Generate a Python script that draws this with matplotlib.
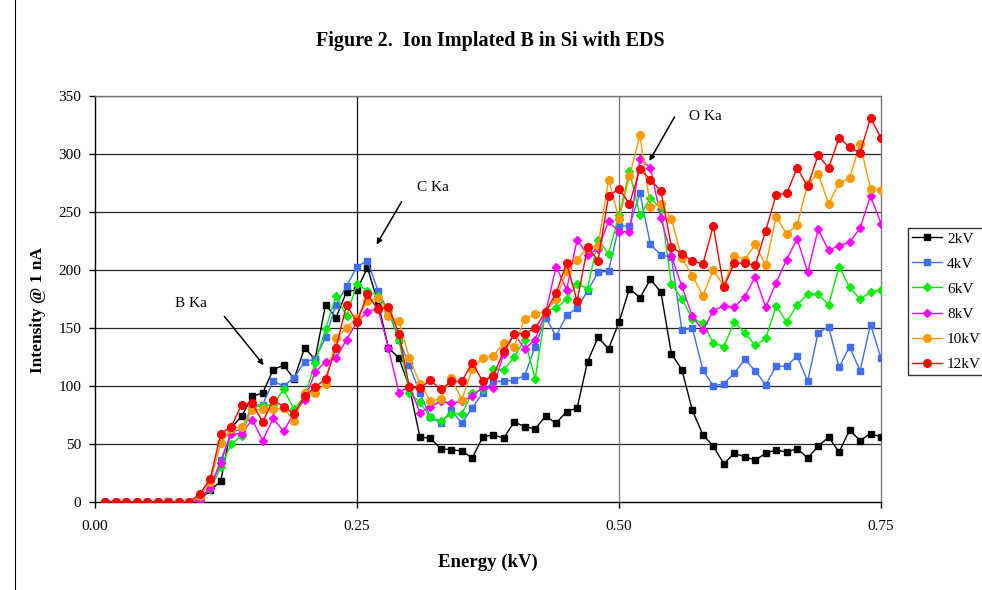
import matplotlib
matplotlib.use("Agg")
import matplotlib.pyplot as plt
from matplotlib.patches import Rectangle

plt.rcParams['font.family'] = ['Liberation Serif', 'DejaVu Serif']

energy = [0.01, 0.02, 0.03, 0.04, 0.05, 0.06, 0.07, 0.08, 0.09, 0.10,
          0.11, 0.12, 0.13, 0.14, 0.15, 0.16, 0.17, 0.18, 0.19, 0.20,
          0.21, 0.22, 0.23, 0.24, 0.25, 0.26, 0.27, 0.28, 0.29, 0.30,
          0.31, 0.32, 0.33, 0.34, 0.35, 0.36, 0.37, 0.38, 0.39, 0.40,
          0.41, 0.42, 0.43, 0.44, 0.45, 0.46, 0.47, 0.48, 0.49, 0.50,
          0.51, 0.52, 0.53, 0.54, 0.55, 0.56, 0.57, 0.58, 0.59, 0.60,
          0.61, 0.62, 0.63, 0.64, 0.65, 0.66, 0.67, 0.68, 0.69, 0.70,
          0.71, 0.72, 0.73, 0.74, 0.75]

kv2 = [0, 0, 0, 0, 0, 0, 0, 0, 0, 2,
       10, 18, 64, 74, 91, 94, 114, 118, 106, 133,
       123, 170, 159, 181, 183, 202, 172, 133, 124, 99,
       56, 55, 46, 45, 44, 38, 56, 58, 55, 69,
       65, 63, 74, 68, 78, 81, 121, 142, 132, 155,
       184, 176, 192, 181, 128, 114, 79, 58, 48, 33,
       42, 39, 36, 42, 45, 43, 46, 38, 48, 56,
       43, 62, 53, 59, 56]

kv4 = [0, 0, 0, 0, 0, 0, 1, 0, 0, 2,
       13, 36, 60, 63, 83, 84, 104, 100, 107, 121,
       123, 142, 170, 186, 203, 208, 182, 164, 140, 118,
       94, 73, 68, 79, 68, 81, 94, 104, 104, 105,
       109, 134, 159, 143, 161, 167, 182, 198, 199, 238,
       238, 266, 222, 213, 211, 148, 150, 114, 100, 102,
       111, 123, 113, 101, 117, 117, 126, 104, 146, 151,
       116, 134, 113, 153, 124]

kv6 = [0, 0, 0, 0, 0, 0, 0, 0, 0, 3,
       11, 30, 50, 57, 82, 83, 84, 97, 80, 91,
       120, 149, 178, 160, 188, 182, 178, 165, 140, 94,
       86, 73, 70, 76, 76, 94, 97, 115, 114, 125,
       140, 106, 165, 167, 175, 188, 184, 226, 214, 247,
       285, 247, 262, 253, 188, 175, 158, 154, 137, 134,
       155, 146, 135, 141, 169, 155, 170, 179, 179, 170,
       203, 185, 175, 181, 183]

kv8 = [0, 0, 0, 0, 0, 0, 0, 0, 0, 2,
       12, 34, 59, 59, 71, 53, 72, 61, 77, 88,
       112, 121, 124, 140, 155, 164, 167, 133, 94, 100,
       77, 82, 87, 85, 87, 91, 99, 98, 128, 145,
       132, 140, 163, 203, 183, 226, 213, 218, 242, 233,
       233, 296, 288, 245, 212, 186, 160, 148, 165, 169,
       168, 177, 194, 168, 189, 209, 227, 198, 235, 217,
       221, 224, 236, 264, 240]

kv10 = [0, 0, 0, 0, 0, 0, 0, 0, 0, 5,
        17, 51, 63, 65, 79, 80, 80, 81, 70, 94,
        94, 102, 141, 150, 159, 173, 176, 160, 156, 124,
        102, 87, 89, 107, 88, 115, 124, 126, 137, 134,
        158, 162, 164, 175, 199, 209, 219, 221, 278, 244,
        281, 316, 254, 257, 244, 210, 195, 178, 200, 186,
        212, 209, 222, 204, 246, 231, 239, 274, 283, 257,
        275, 279, 309, 270, 269]

kv12 = [0, 0, 0, 0, 0, 0, 0, 0, 0, 7,
        20, 59, 65, 84, 85, 69, 88, 82, 76, 91,
        99, 106, 133, 170, 155, 179, 166, 168, 145, 99,
        98, 105, 97, 104, 104, 120, 104, 109, 130, 145,
        145, 150, 164, 180, 206, 173, 220, 208, 264, 270,
        257, 287, 278, 268, 220, 214, 208, 205, 238, 185,
        206, 206, 204, 234, 265, 266, 288, 272, 299, 288,
        314, 306, 301, 331, 314]

series_labels = ['2kV', '4kV', '6kV', '8kV', '10kV', '12kV']
series_data = [kv2, kv4, kv6, kv8, kv10, kv12]
colors = ['#000000', '#3F6FF0', '#00EE00', '#FF00FF', '#FF9900', '#FF0000']
markers = ['s', 's', 'D', 'D', 'o', 'o']
msizes = [5.0, 5.0, 4.2, 4.2, 5.5, 5.5]

x_ticks = [0.00, 0.25, 0.50, 0.75]
x_ticklabels = ['0.00', '0.25', '0.50', '0.75']
y_ticks = [0, 50, 100, 150, 200, 250, 300, 350]

W, H = 982, 590
fig = plt.figure(figsize=(W / 100, H / 100), dpi=100)
ax = fig.add_axes([95 / W, 1 - 502 / H, (881 - 95) / W, (502 - 96) / H])

for y in y_ticks[1:]:
    ax.axhline(y, color='#262626', lw=0.9, zorder=1)
ax.axvline(0.25, color='#111111', lw=0.9, zorder=1)
ax.axvline(0.50, color='#777777', lw=0.9, zorder=1)

for lab, d, c, m, ms in zip(series_labels, series_data, colors, markers, msizes):
    ax.plot(energy, d, color=c, lw=1.0, marker=m, markersize=ms,
            markerfacecolor=c, markeredgecolor=c, label=lab, zorder=3)

ax.set_xlim(0, 0.75)
ax.set_ylim(0, 350)
ax.set_xticks(x_ticks)
ax.set_xticklabels(x_ticklabels)
ax.set_yticks(y_ticks)
ax.tick_params(axis='both', direction='out', length=4, width=1, labelsize=11,
               colors='black', pad=6)
ax.tick_params(axis='x', pad=9)
for side in ['left', 'bottom']:
    ax.spines[side].set_color('black')
    ax.spines[side].set_linewidth(1.0)
for side in ['top', 'right']:
    ax.spines[side].set_color('#777777')
    ax.spines[side].set_linewidth(1.0)

fig.text(490 / W, 1 - 41 / H, 'Figure 2.  Ion Implated B in Si with EDS',
         ha='center', va='center', fontsize=14.5, fontweight='bold')
fig.text(488 / W, 1 - 562 / H, 'Energy (kV)', ha='center', va='center',
         fontsize=13.5, fontweight='bold')
fig.text(38 / W, 1 - 310 / H, 'Intensity @ 1 nA', ha='center', va='center',
         rotation=90, fontsize=12.5, fontweight='bold')

arrow = dict(arrowstyle='-|>', color='black', lw=1.1, mutation_scale=8,
             shrinkA=0, shrinkB=0)
ax.annotate('', xy=(0.161, 118), xytext=(0.1234, 160), arrowprops=arrow, zorder=4)
ax.text(0.092, 171, 'B Ka', ha='center', va='center', fontsize=11)
ax.annotate('', xy=(0.2687, 222), xytext=(0.2926, 259), arrowprops=arrow, zorder=4)
ax.text(0.3225, 271, 'C Ka', ha='center', va='center', fontsize=11)
ax.annotate('', xy=(0.529, 294), xytext=(0.553, 332), arrowprops=arrow, zorder=4)
ax.text(0.582, 332, 'O Ka', ha='center', va='center', fontsize=11)

leg = fig.legend(loc='upper left', bbox_to_anchor=(908 / W, 1 - 228 / H),
                 fontsize=11, frameon=True, fancybox=False, edgecolor='black',
                 handlelength=2.0, handletextpad=0.3, labelspacing=0.75,
                 borderpad=0.25, borderaxespad=0)
leg.get_frame().set_linewidth(1.0)

fig.patches.append(Rectangle((15 / W, -0.1), 1.2, 1.3,
                             transform=fig.transFigure, fill=False,
                             edgecolor='black', lw=0.8))

fig.savefig('out.png', dpi=100)
